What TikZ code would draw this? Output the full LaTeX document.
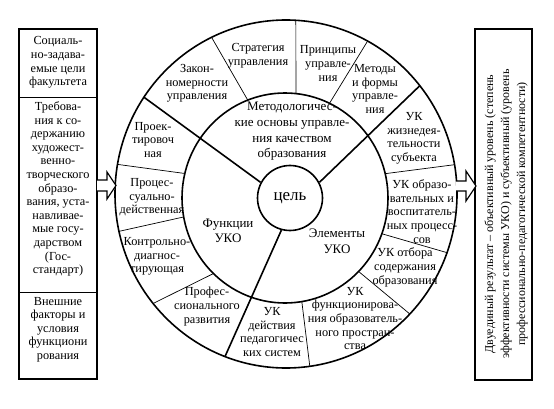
\documentclass[tikz,border=0pt]{standalone}
\usepackage{fontspec}
\setmainfont{Liberation Serif}
\usetikzlibrary{calc}
\begin{document}
\begin{tikzpicture}[x=1pt,y=-1pt,
  lab/.style={align=center, inner sep=0pt, font=\fontsize{12.3}{13.6}\selectfont},
  biglab/.style={align=center, inner sep=0pt, font=\fontsize{13}{15.6}\selectfont},
  heavy/.style={line width=1.6pt},
  light/.style={line width=0.7pt},
  hollowarrow/.style={line width=1.2pt, fill=white}
]
\useasboundingbox (0,0) rectangle (554,409);
\coordinate (O1) at (286,194);
\coordinate (O2) at (285,198);
% circles
\draw[heavy] (O1) ellipse [x radius=171pt, y radius=174pt];
\draw[heavy] (O2) ellipse [x radius=103pt, y radius=105pt];
\node[heavy, draw, circle, minimum size=65pt, inner sep=0pt, font=\fontsize{17}{19}\selectfont] (cel) at (290,198) {цель};
% thick spokes
\draw[heavy] (cel.152) -- ($(O1)+(-146.2:171 and 174)$);
\draw[heavy] (cel.28) -- ($(O1)+(-38.5:171 and 174)$);
\draw[heavy] (cel.255) -- ($(O1)+(-249.1:171 and 174)$);
% thin separators (outer angle, inner angle)
\foreach \a/\b in {115.8/111.2, 86.7/83.9, 61.5/64.4, 170.2/166.5, 192.4/190.4, 219/226, 278/279.4, 316.4/315.6, -19.7/-19.9, 9.7/13.4}
  \draw[light] ($(O1)+(-\a:171 and 174)$) -- ($(O2)+(-\b:103 and 105)$);
% inner ring labels
\node[biglab] (metod) at (292,131.5) {Методологичес-\\кие основы управле-\\ния качеством\\образования};
\node[biglab] (funk) at (228,231) {Функции\\УКО};
\node[biglab] (elem) at (337,241) {Элементы\\УКО};
% outer ring labels
\node[lab] (strat) at (258,55.5) {Стратегия\\управления};
\node[lab] (princ) at (328,63.5) {Принципы\\управле-\\ния};
\node[lab] (metody) at (375,89) {Методы\\и формы\\управле-\\ния};
\node[lab] (zakon) at (197,83.5) {Закон-\\номерности\\управления};
\node[lab] (zhizn) at (414,138.5) {УК\\жизнедея-\\тельности\\субъекта};
\node[lab] (obrproc) at (422,211.5) {УК образо-\\вательных и\\воспитатель-\\ных процесс-\\сов};
\node[lab] (otbor) at (405,267.5) {УК отбора\\содержания\\образования};
\node[lab] (funkc) at (355,318.5) {УК\\функционирова-\\ния образователь-\\ного простран-\\ства};
\node[lab] (deistv) at (272,332) {УК\\действия\\педагогичес\\ких систем};
\node[lab] (prof) at (207,306.5) {Профес-\\сионального\\развития};
\node[lab] (kontr) at (157,256.5) {Контрольно-\\диагнос-\\тирующая};
\node[lab] (proc) at (152,197.5) {Процес-\\суально-\\действенная};
\node[lab] (proekt) at (153,140) {Проек-\\тировоч\\ная};
% left box
\node[heavy, draw, minimum width=78pt, minimum height=350pt, inner sep=0pt] (lbox) at (58,204) {};
\draw[light] (19,97) -- (97,97);
\draw[light] (19,292) -- (97,292);
\node[lab] (soc) at (58,62.5) {Социаль-\\но-задава-\\емые цели\\факультета};
\node[lab] (treb) at (58,189) {Требова-\\ния к со-\\держанию\\художест-\\венно-\\творческого\\образо-\\вания, уста-\\навливае-\\мые госу-\\дарством\\(Гос-\\стандарт)};
\node[lab] (vnesh) at (58,329.5) {Внешние\\факторы и\\условия\\функциони\\рования};
% right box
\node[heavy, draw, minimum width=57pt, minimum height=351pt, inner sep=0pt] (rbox) at (503.5,204.5) {};
\node[lab, rotate=90, font=\fontsize{12}{16}\selectfont] (res) at (506,214) {Двуединый результат – объективный уровень (степень\\эффективности системы УКО) и субъективный (уровень\\профессионально-педагогической компетентности)};
% arrows
\draw[hollowarrow] (97,180) -- (107,180) -- (107,172) -- (116,185.5) -- (107,199) -- (107,191) -- (97,191);
\draw[hollowarrow] (456,181) -- (466,181) -- (466,171) -- (476,186) -- (466,201) -- (466,191) -- (456,191);
\end{tikzpicture}
\end{document}
